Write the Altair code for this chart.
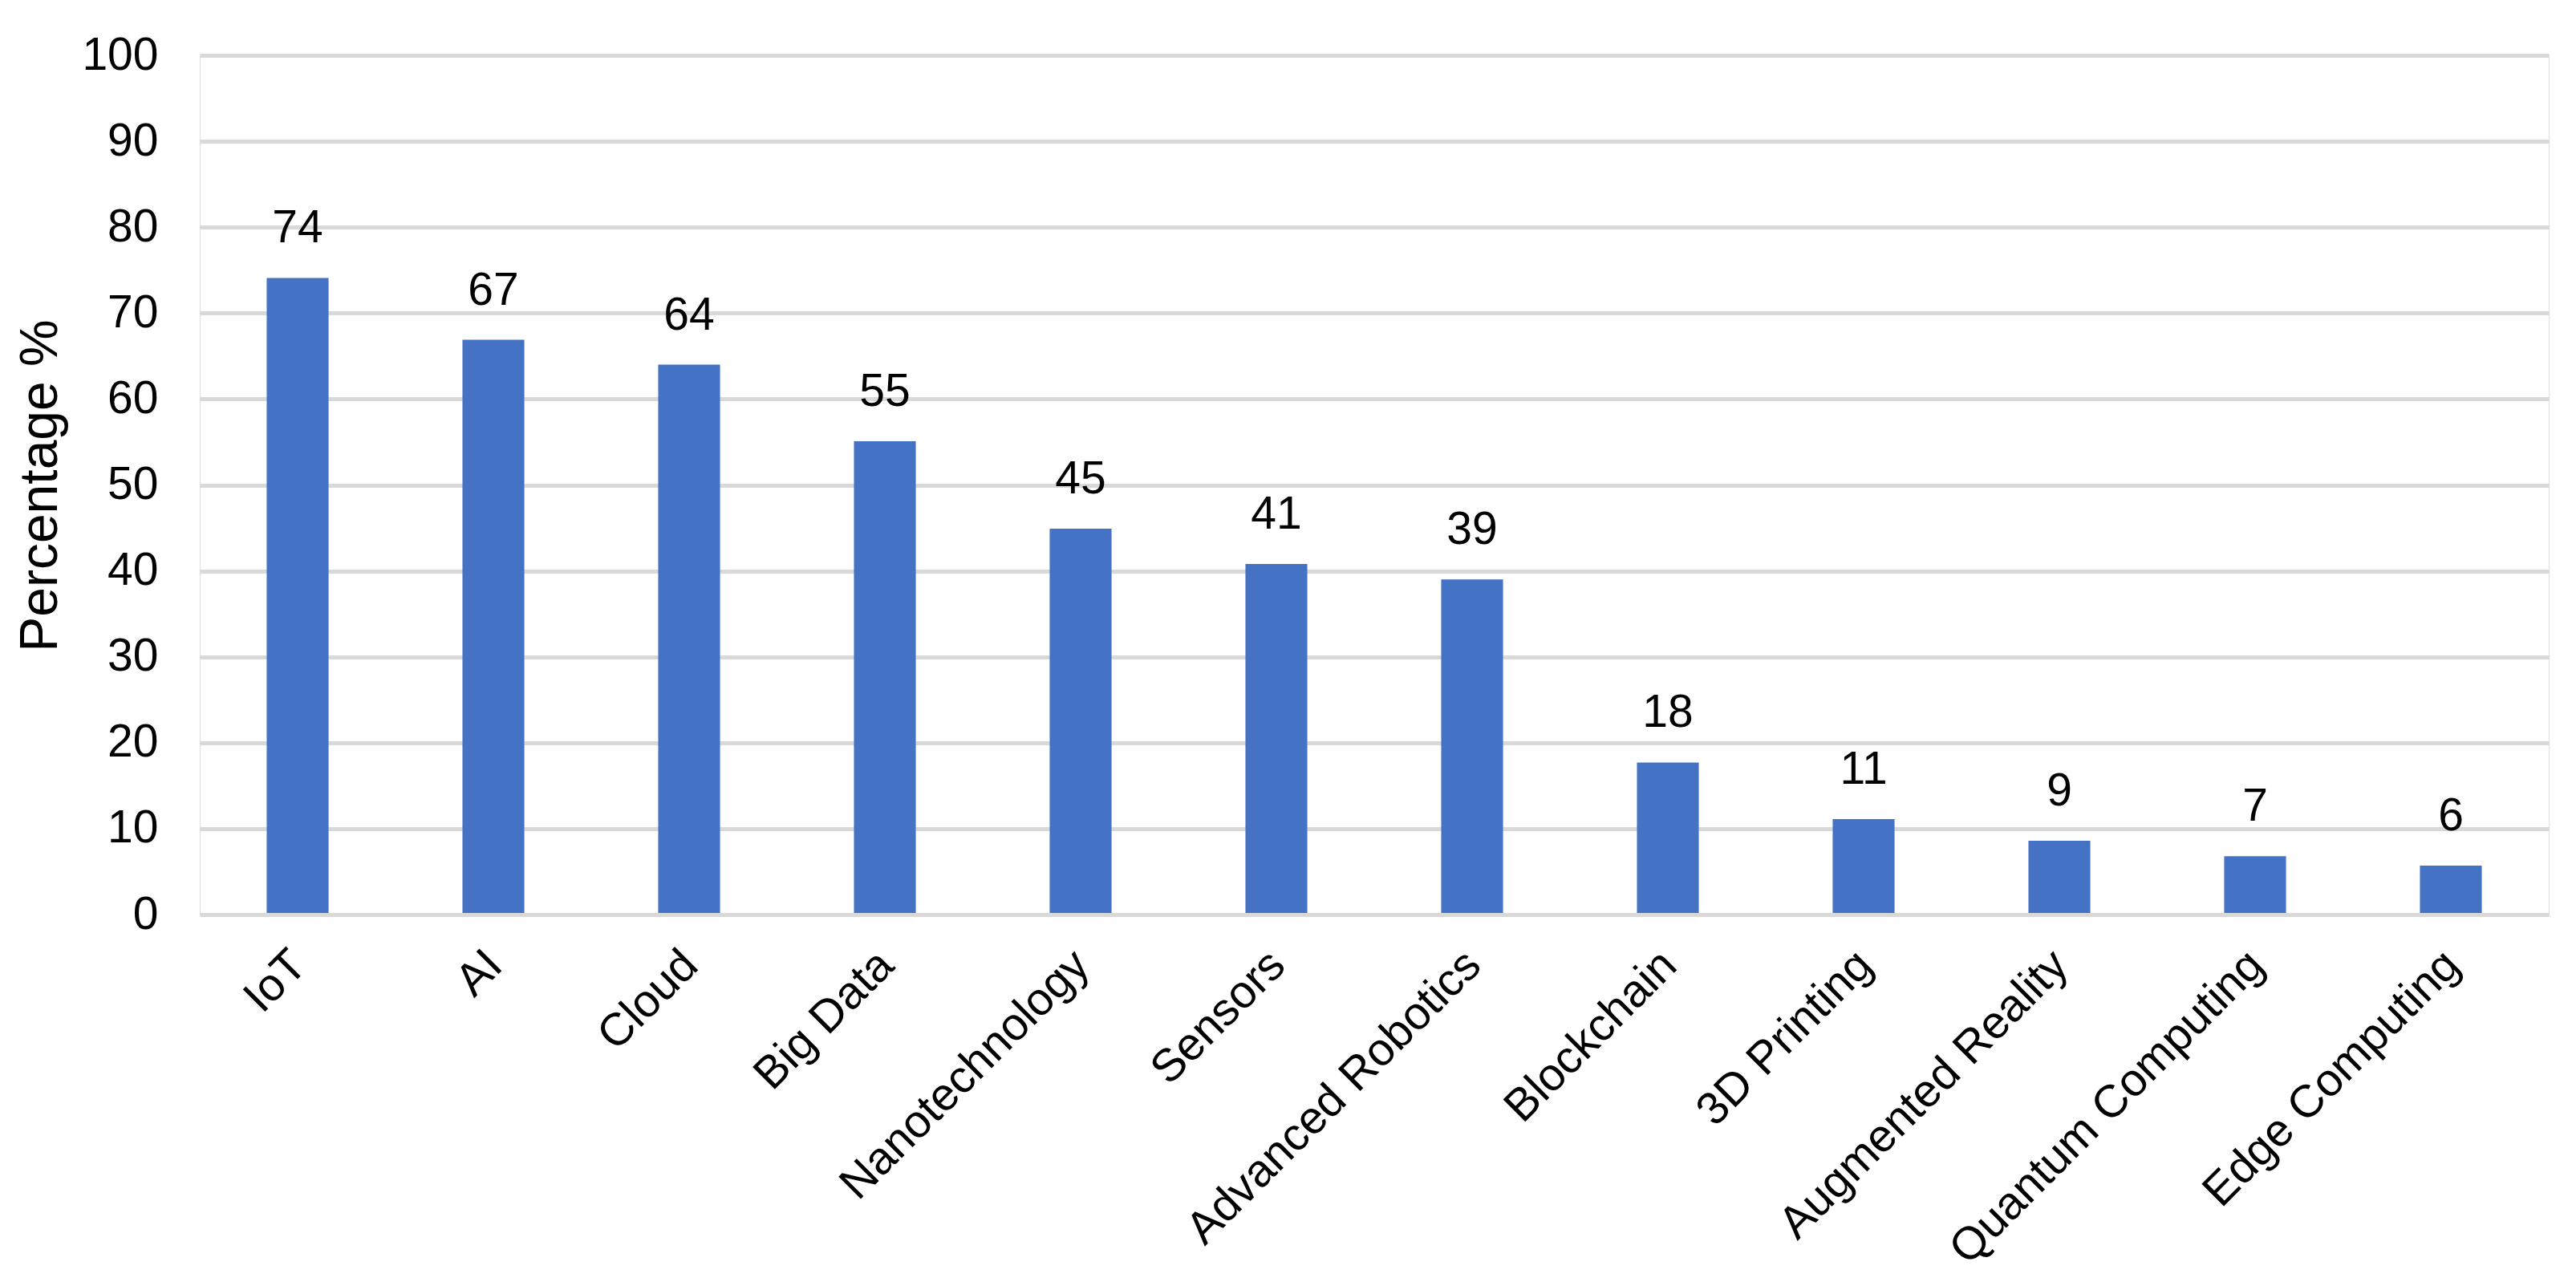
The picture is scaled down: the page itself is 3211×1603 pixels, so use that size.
import altair as alt
import pandas as pd

categories = ["IoT", "AI", "Cloud", "Big Data", "Nanotechnology", "Sensors",
              "Advanced Robotics", "Blockchain", "3D Printing", "Augmented Reality",
              "Quantum Computing", "Edge Computing"]
values = [74.1, 66.9, 64.0, 55.1, 44.9, 40.8, 39.0, 17.7, 11.1, 8.6, 6.8, 5.7]
y_ticks = [0, 10, 20, 30, 40, 50, 60, 70, 80, 90, 100]

df = pd.DataFrame({"tech": categories, "pct": values})

FONT = "Liberation Sans"

x_enc = alt.X("tech:N", sort=categories, title=None,
              scale=alt.Scale(paddingInner=0.684, paddingOuter=0.342),
              axis=alt.Axis(labelAngle=-45, labelAlign="right", labelBaseline="alphabetic",
                            labelPadding=66, labelOffset=14, labelFontSize=57,
                            labelFont=FONT, labelColor="#000000", ticks=False,
                            domain=True, domainColor="#D9D9D9", domainWidth=5,
                            zindex=1, labelOverlap=False, labelLimit=0))

y_enc = alt.Y("pct:Q", title="Percentage %",
              scale=alt.Scale(domain=[0, 100], nice=False, zero=True),
              axis=alt.Axis(values=y_ticks, ticks=False, domain=False,
                            grid=True, gridColor="#D9D9D9", gridWidth=5,
                            labelFontSize=57, labelFont=FONT, labelColor="#000000",
                            labelPadding=52, labelBaseline="middle",
                            titleFontSize=66, titleFont=FONT, titleColor="#000000",
                            titleFontWeight="normal", titleAngle=270,
                            titleX=-179, titleY=536, titleAlign="center",
                            titleBaseline="alphabetic"))

bars = alt.Chart(df).mark_bar(color="#4472C4").encode(x=x_enc, y=y_enc)

labels = alt.Chart(df).mark_text(
    baseline="alphabetic", align="center", dy=-44, fontSize=57, font=FONT, color="#000000"
).encode(
    x=alt.X("tech:N", sort=categories),
    y=alt.Y("pct:Q"),
    text=alt.Text("pct:Q", format=".0f"),
)

chart = (bars + labels).properties(
    width=2928, height=1071,
    autosize=alt.AutoSizeParams(type="none"),
    padding={"left": 241, "top": 61, "right": 26, "bottom": 460},
).configure_view(stroke=None).configure(background="white")

chart.save("out.html", embed_options={"renderer": "svg", "actions": False})
